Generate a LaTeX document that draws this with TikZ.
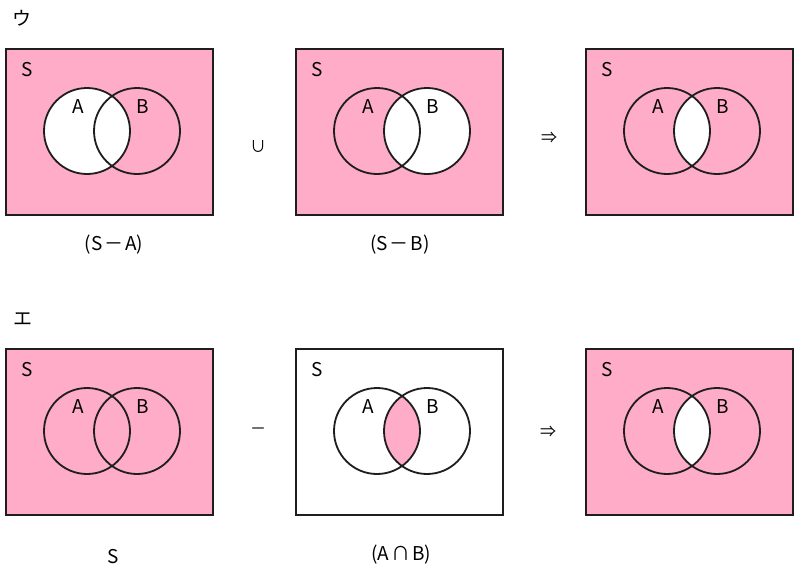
\documentclass[tikz,border=0pt]{standalone}
\usepackage{fontspec}
\setmainfont{Noto Sans CJK JP}
\definecolor{vpink}{RGB}{255,172,200}
\definecolor{vline}{RGB}{30,30,30}
\tikzset{
  setbox/.style={draw=vline, line width=1.8pt},
  setcirc/.style={draw=vline, line width=1.8pt},
  lbl/.style={font=\fontsize{19}{19}\selectfont, inner sep=0pt, anchor=center},
  opsym/.style={font=\fontsize{16}{16}\selectfont, inner sep=0pt, anchor=center},
}
\newcommand\gapsp{\hspace{2pt}}
\begin{document}
\begin{tikzpicture}[x=1pt,y=-1pt]
\useasboundingbox (0,0) rectangle (801,582);
% ---------- top row ----------
% diagram 1: S - A
\begin{scope}[shift={(6,49)}]
  \coordinate (a1) at (81,82); \coordinate (b1) at (131,82);
  \fill[vpink] (0,0) rectangle (207,166);
  \fill[white] (a1) circle (43);
  \draw[setbox] (0,0) rectangle (207,166);
  \draw[setcirc] (a1) circle (43);
  \draw[setcirc] (b1) circle (43);
  \node[lbl] (s1) at (21,21) {S};
  \node[lbl] (la1) at (72,58) {A};
  \node[lbl] (lb1) at (137,58) {B};
\end{scope}
% diagram 2: S - B
\begin{scope}[shift={(296,49)}]
  \coordinate (a2) at (81,82); \coordinate (b2) at (131,82);
  \fill[vpink] (0,0) rectangle (207,166);
  \fill[white] (b2) circle (43);
  \draw[setbox] (0,0) rectangle (207,166);
  \draw[setcirc] (a2) circle (43);
  \draw[setcirc] (b2) circle (43);
  \node[lbl] (s2) at (21,21) {S};
  \node[lbl] (la2) at (72,58) {A};
  \node[lbl] (lb2) at (137,58) {B};
\end{scope}
% diagram 3: result
\begin{scope}[shift={(586,49)}]
  \coordinate (a3) at (81,82); \coordinate (b3) at (131,82);
  \fill[vpink] (0,0) rectangle (207,166);
  \begin{scope}\clip (a3) circle (43); \fill[white] (b3) circle (43);\end{scope}
  \draw[setbox] (0,0) rectangle (207,166);
  \draw[setcirc] (a3) circle (43);
  \draw[setcirc] (b3) circle (43);
  \node[lbl] (s3) at (21,21) {S};
  \node[lbl] (la3) at (72,58) {A};
  \node[lbl] (lb3) at (137,58) {B};
\end{scope}
% ---------- bottom row ----------
% diagram 4: S
\begin{scope}[shift={(6,349)}]
  \coordinate (a4) at (81,82); \coordinate (b4) at (131,82);
  \fill[vpink] (0,0) rectangle (207,166);
  \draw[setbox] (0,0) rectangle (207,166);
  \draw[setcirc] (a4) circle (43);
  \draw[setcirc] (b4) circle (43);
  \node[lbl] (s4) at (21,21) {S};
  \node[lbl] (la4) at (72,58) {A};
  \node[lbl] (lb4) at (137,58) {B};
\end{scope}
% diagram 5: A cap B
\begin{scope}[shift={(296,349)}]
  \coordinate (a5) at (81,82); \coordinate (b5) at (131,82);
  \fill[white] (0,0) rectangle (207,166);
  \begin{scope}\clip (a5) circle (43); \fill[vpink] (b5) circle (43);\end{scope}
  \draw[setbox] (0,0) rectangle (207,166);
  \draw[setcirc] (a5) circle (43);
  \draw[setcirc] (b5) circle (43);
  \node[lbl] (s5) at (21,21) {S};
  \node[lbl] (la5) at (72,58) {A};
  \node[lbl] (lb5) at (137,58) {B};
\end{scope}
% diagram 6: result
\begin{scope}[shift={(586,349)}]
  \coordinate (a6) at (81,82); \coordinate (b6) at (131,82);
  \fill[vpink] (0,0) rectangle (207,166);
  \begin{scope}\clip (a6) circle (43); \fill[white] (b6) circle (43);\end{scope}
  \draw[setbox] (0,0) rectangle (207,166);
  \draw[setcirc] (a6) circle (43);
  \draw[setcirc] (b6) circle (43);
  \node[lbl] (s6) at (21,21) {S};
  \node[lbl] (la6) at (72,58) {A};
  \node[lbl] (lb6) at (137,58) {B};
\end{scope}
% ---------- headings, captions, operators ----------
\node[lbl] (hu) at (22,18) {ウ};
\node[lbl] (he) at (23,319) {エ};
\node[lbl] (c1) at (114,245) {(S\gapsp －\gapsp A)};
\node[lbl] (c2) at (400,245) {(S\gapsp －\gapsp B)};
\node[lbl] (c4) at (113,557) {S};
\node[lbl] (c5) at (401,555) {(A\gapsp ∩\gapsp B)};
\node[opsym] (o1) at (258,147) {∪};
\node[opsym] (o2) at (549,138) {⇒};
\node[opsym] (o3) at (258,431) {－};
\node[opsym] (o4) at (548,432) {⇒};
\end{tikzpicture}
\end{document}
